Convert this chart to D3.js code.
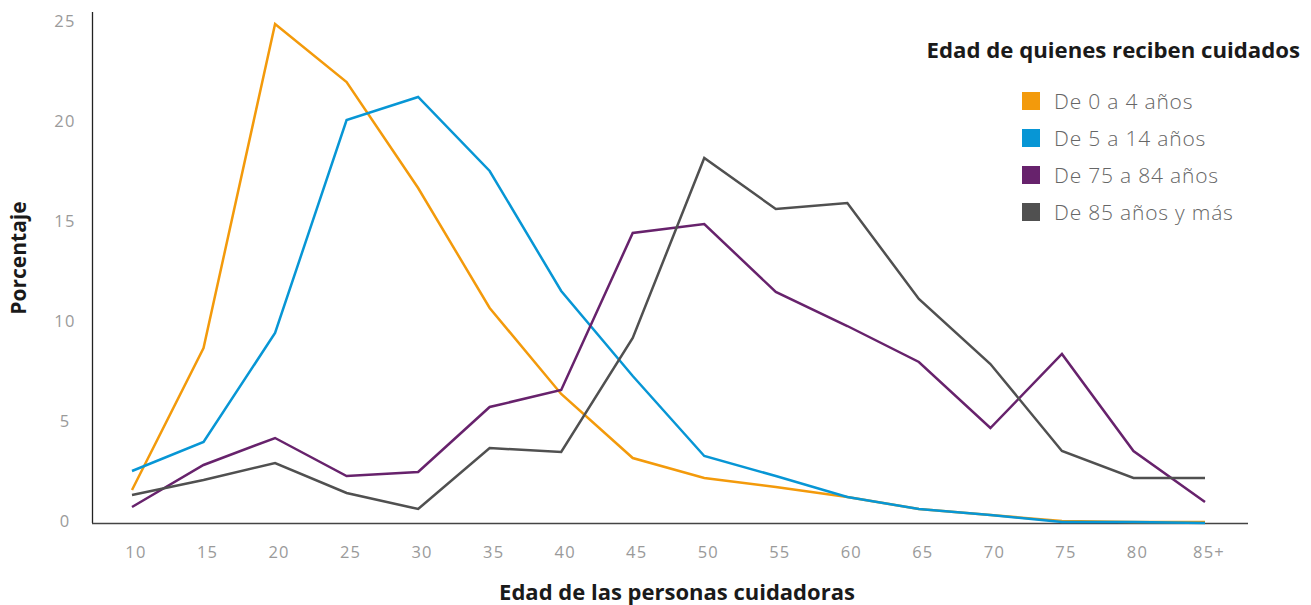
<!DOCTYPE html>
<html>
<head>
<meta charset="utf-8">
<script src="https://cdn.jsdelivr.net/npm/d3@7"></script>
<style>
  body { margin: 0; background: #fff; }
  text { font-family: "Open Sans", sans-serif; }
</style>
</head>
<body>
<div id="chart"></div>
<script>
// edades de las personas cuidadoras
const ages = ["10", "15", "20", "25", "30", "35", "40", "45", "50", "55", "60", "65", "70", "75", "80", "85+"];

const de0a4   = [1.6, 8.7, 24.9, 22.0, 16.7, 10.7, 6.4, 3.2, 2.2, 1.75, 1.25, 0.65, 0.35, 0.05, 0, 0];
const de5a14  = [2.55, 4.0, 9.45, 20.1, 21.25, 17.55, 11.55, 7.3, 3.3, 2.3, 1.25, 0.65, 0.35, 0.0, 0, -0.05];
const de75a84 = [0.75, 2.85, 4.2, 2.3, 2.5, 5.75, 6.6, 14.45, 14.9, 11.5, 9.8, 8.0, 4.7, 8.4, 3.55, 1.0];
const de85    = [1.35, 2.1, 2.95, 1.45, 0.65, 3.7, 3.5, 9.2, 18.2, 15.65, 15.95, 11.15, 7.9, 3.55, 2.2, 2.2];

const yTicks = [0, 5, 10, 15, 20, 25];

const series = [
  {name: "De 0 a 4 años", values: de0a4, color: "#F39A0B"},
  {name: "De 5 a 14 años", values: de5a14, color: "#0796D5"},
  {name: "De 75 a 84 años", values: de75a84, color: "#67226C"},
  {name: "De 85 años y más", values: de85, color: "#505050"}
];

const width = 1311, height = 605;

const svg = d3.select("#chart").append("svg")
  .attr("width", width)
  .attr("height", height);

const x = d3.scalePoint()
  .domain(ages)
  .range([132, 1205]);

const y = d3.scaleLinear()
  .domain([0, 25])
  .range([522, 22]);

// eje y
svg.append("line")
  .attr("x1", 92.5).attr("x2", 92.5)
  .attr("y1", 12).attr("y2", 523)
  .attr("stroke", "#222").attr("stroke-width", 1.3);

svg.selectAll(".ytick")
  .data(yTicks)
  .enter().append("text")
    .attr("class", "ytick")
    .attr("x", 65)
    .attr("y", d => y(d) - 1)
    .attr("text-anchor", "middle")
    .attr("dy", "0.35em")
    .attr("fill", "#9a9a9a")
    .style("font-size", "16.5px")
    .style("letter-spacing", "1.2px")
    .text(d => d);

// eje x
svg.append("line")
  .attr("x1", 92).attr("x2", 1248)
  .attr("y1", 523.5).attr("y2", 523.5)
  .attr("stroke", "#444").attr("stroke-width", 1.3);

svg.selectAll(".xtick")
  .data(ages)
  .enter().append("text")
    .attr("class", "xtick")
    .attr("x", d => x(d) + 4)
    .attr("y", 558)
    .attr("text-anchor", "middle")
    .attr("fill", "#9a9a9a")
    .style("font-size", "16.5px")
    .style("letter-spacing", "1.2px")
    .text(d => d);

// titulos de ejes
svg.append("text")
  .attr("x", 677)
  .attr("y", 600)
  .attr("text-anchor", "middle")
  .attr("fill", "#1a1a1a")
  .style("font-weight", "bold")
  .style("font-size", "22px")
  .text("Edad de las personas cuidadoras");

svg.append("text")
  .attr("transform", "translate(26,258) rotate(-90)")
  .attr("text-anchor", "middle")
  .attr("fill", "#1a1a1a")
  .style("font-weight", "bold")
  .style("font-size", "21px")
  .text("Porcentaje");

// lineas
const line = d3.line()
  .x((d, i) => x(ages[i]))
  .y(d => y(d));

svg.selectAll(".serie")
  .data(series)
  .enter().append("path")
    .attr("class", "serie")
    .attr("d", d => line(d.values))
    .attr("fill", "none")
    .attr("stroke", d => d.color)
    .attr("stroke-width", 2.5)
    .attr("stroke-linejoin", "miter");

// leyenda
svg.append("text")
  .attr("x", 1300)
  .attr("y", 58)
  .attr("text-anchor", "end")
  .attr("fill", "#1a1a1a")
  .style("font-weight", "bold")
  .style("font-size", "22.2px")
  .text("Edad de quienes reciben cuidados");

const legend = svg.selectAll(".leg")
  .data(series)
  .enter().append("g")
    .attr("class", "leg")
    .attr("transform", (d, i) => `translate(1022,${92 + i * 37})`);

legend.append("rect")
  .attr("width", 18).attr("height", 18)
  .attr("fill", d => d.color);

legend.append("text")
  .attr("x", 32)
  .attr("y", 9)
  .attr("dy", "0.36em")
  .attr("fill", "#666")
  .style("font-size", "21px")
  .style("font-weight", 300)
  .style("letter-spacing", "0.8px")
  .text(d => d.name);
</script>
</body>
</html>
